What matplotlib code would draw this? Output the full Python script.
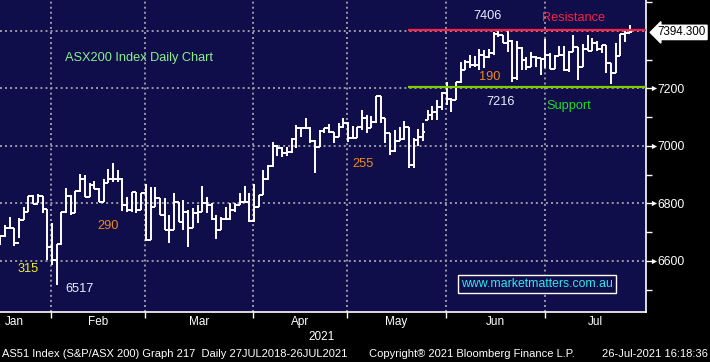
import matplotlib
matplotlib.use('Agg')
import matplotlib.pyplot as plt

# ----------------------------------
# Data (AS51 daily OHLC, mid Jan - 26 Jul 2021)
# ----------------------------------
opens = [6670, 6686, 6713, 6713, 6661, 6742, 6771, 6826, 6797, 6826,
         6779, 6647, 6603, 6658, 6771, 6826, 6765, 6844, 6883, 6821,
         6864, 6849, 6805, 6869, 6883, 6883, 6883, 6794, 6777, 6838,
         6777, 6835, 6672, 6788, 6817, 6759, 6707, 6707, 6805, 6736,
         6771, 6713, 6765, 6771, 6800, 6794, 6745, 6707, 6745, 6744,
         6777, 6794, 6805, 6803, 6738, 6788, 6829, 6883, 6930, 6999,
         6993, 6976, 6979, 7023, 7061, 7063, 7063, 7018, 6997, 7052,
         7061, 7049, 7032, 7064, 7080, 7026, 7028, 7066, 7095, 7061,
         7082, 7173, 7095, 7043, 6982, 7017, 7023, 7064, 6933, 7020,
         7029, 7090, 7107, 7119, 7134, 7185, 7162, 7159, 7221, 7264,
         7292, 7281, 7281, 7316, 7310, 7322, 7389, 7385, 7358, 7365,
         7235, 7339, 7298, 7275, 7310, 7304, 7301, 7316, 7266, 7312,
         7316, 7264, 7327, 7342, 7273, 7336, 7331, 7358, 7336, 7350,
         7287, 7252, 7312, 7389, 7393]
highs = [6690, 6724, 6753, 6713, 6748, 6788, 6826, 6829, 6832, 6826,
         6779, 6730, 6658, 6771, 6852, 6829, 6844, 6902, 6898, 6869,
         6877, 6852, 6883, 6918, 6939, 6916, 6887, 6823, 6838, 6838,
         6835, 6866, 6858, 6858, 6817, 6817, 6759, 6835, 6805, 6812,
         6775, 6783, 6794, 6860, 6823, 6800, 6759, 6753, 6788, 6800,
         6800, 6835, 6861, 6835, 6866, 6829, 6916, 6933, 7014, 7003,
         6997, 6997, 7026, 7072, 7066, 7095, 7066, 7020, 7055, 7061,
         7076, 7049, 7078, 7095, 7084, 7069, 7066, 7124, 7107, 7104,
         7173, 7173, 7095, 7045, 7055, 7066, 7086, 7066, 7026, 7058,
         7078, 7124, 7138, 7159, 7188, 7223, 7165, 7223, 7290, 7298,
         7316, 7312, 7336, 7333, 7336, 7397, 7406, 7385, 7400, 7368,
         7365, 7345, 7310, 7325, 7312, 7306, 7371, 7322, 7316, 7347,
         7347, 7331, 7385, 7345, 7354, 7385, 7374, 7365, 7350, 7350,
         7287, 7358, 7389, 7400, 7420]
lows = [6655, 6682, 6713, 6652, 6678, 6742, 6771, 6797, 6800, 6765,
        6603, 6585, 6517, 6655, 6765, 6759, 6765, 6840, 6821, 6821,
        6849, 6803, 6803, 6869, 6875, 6873, 6773, 6771, 6769, 6765,
        6775, 6670, 6672, 6788, 6759, 6707, 6661, 6707, 6736, 6707,
        6649, 6713, 6730, 6771, 6765, 6742, 6675, 6707, 6742, 6742,
        6771, 6794, 6802, 6736, 6736, 6788, 6829, 6881, 6927, 6964,
        6962, 6964, 6976, 6991, 7032, 7061, 7011, 6906, 6997, 7043,
        7045, 7009, 7032, 7062, 7014, 7026, 7028, 7055, 7045, 7061,
        7078, 7078, 7009, 6968, 6980, 7017, 7020, 6922, 6922, 7000,
        7018, 7090, 7090, 7090, 7124, 7142, 7119, 7159, 7217, 7264,
        7269, 7275, 7264, 7269, 7304, 7316, 7379, 7356, 7327, 7223,
        7229, 7264, 7262, 7275, 7275, 7246, 7269, 7266, 7266, 7312,
        7261, 7258, 7327, 7229, 7273, 7331, 7331, 7331, 7322, 7252,
        7216, 7252, 7312, 7362, 7393]
closes = [6686, 6713, 6713, 6661, 6742, 6771, 6826, 6797, 6826, 6779,
          6647, 6603, 6658, 6771, 6826, 6765, 6844, 6883, 6821, 6864,
          6849, 6805, 6869, 6883, 6883, 6883, 6794, 6777, 6838, 6777,
          6835, 6672, 6788, 6817, 6759, 6707, 6707, 6805, 6736, 6771,
          6713, 6765, 6771, 6800, 6794, 6745, 6707, 6745, 6744, 6777,
          6794, 6805, 6803, 6738, 6788, 6829, 6883, 6930, 6999, 6993,
          6976, 6979, 7023, 7061, 7063, 7063, 7018, 6997, 7052, 7061,
          7049, 7032, 7064, 7080, 7026, 7028, 7066, 7095, 7061, 7082,
          7173, 7095, 7043, 6982, 7017, 7023, 7064, 6933, 7020, 7029,
          7049, 7107, 7119, 7134, 7185, 7162, 7159, 7221, 7264, 7292,
          7281, 7281, 7316, 7310, 7322, 7389, 7385, 7358, 7365, 7235,
          7339, 7298, 7275, 7310, 7304, 7301, 7316, 7266, 7312, 7316,
          7264, 7327, 7342, 7273, 7336, 7331, 7358, 7336, 7350, 7287,
          7252, 7312, 7389, 7393, 7394.3]

last_price = 7394.3
resistance = 7403
support = 7204
month_names = ['Jan', 'Feb', 'Mar', 'Apr', 'May', 'Jun', 'Jul']
month_starts = [11, 31, 54, 74, 95, 116]      # first bar of Feb..Jul
y_major = [6600, 6800, 7000, 7200]
y_minor = [6500, 6700, 6900, 7100, 7300, 7500]
grid_levels = [6600, 6800, 7000, 7200, 7400]

# ----------------------------------
# Style
# ----------------------------------
bg = '#0f0d4a'
plt.rcParams['font.family'] = ['Liberation Sans', 'DejaVu Sans']
narrow = ['Liberation Sans Narrow', 'Liberation Sans', 'DejaVu Sans']

fig = plt.figure(figsize=(7.1, 3.62), dpi=100, facecolor='black')
ax = fig.add_axes([0, 1 - 311.5 / 362, 646 / 710, 311.5 / 362])
ax.set_facecolor(bg)

n = len(closes)
x = list(range(n))
xmin, xmax = -0.05, 137.45
ax.set_xlim(xmin, xmax)
ax.set_ylim(6423.6, 7507)

# --- grid ---
grid_kw = dict(color='#9a9aa6', lw=1.4, linestyle=(0, (1, 1.6)), zorder=1)
for g in grid_levels:
    ax.axhline(g, **grid_kw)
bounds = [m - 0.15 for m in month_starts]
for b in bounds:
    ax.axvline(b, **grid_kw)

# --- OHLC bars ---
ax.vlines(x, lows, highs, color='white', lw=1.4, zorder=3)
ax.hlines(opens, [i - 0.5 for i in x], x, color='white', lw=1.4, zorder=3)
ax.hlines(closes, x, [i + 0.5 for i in x], color='white', lw=1.4, zorder=3)

# --- resistance / support ---
ax.hlines(resistance, 86.8, xmax, color='#ff2045', lw=1.6, zorder=4)
ax.hlines(support, 86.8, xmax, color='#7fcc00', lw=1.6, zorder=4)

# --- annotations ---
fs = 9.2
ax.text(29.6, 7305, 'ASX200 Index Daily Chart', color='#8cf08c', fontsize=fs, ha='center', va='center')
ax.text(6.0, 6571, '315', color='#f0f020', fontsize=fs, ha='center', va='center')
ax.text(16.8, 6502, '6517', color='#e8f0ff', fontsize=fs, ha='center', va='center')
ax.text(23.0, 6721, '290', color='#f08a1e', fontsize=fs, ha='center', va='center')
ax.text(77.2, 6937, '255', color='#f08a1e', fontsize=fs, ha='center', va='center')
ax.text(104.1, 7239, '190', color='#f08a1e', fontsize=fs, ha='center', va='center')
ax.text(103.7, 7450, '7406', color='#e8f0ff', fontsize=fs, ha='center', va='center')
ax.text(106.5, 7153, '7216', color='#e8f0ff', fontsize=fs, ha='center', va='center')
ax.text(122.0, 7444, 'Resistance', color='#ff2045', fontsize=fs, ha='center', va='center')
ax.text(121.0, 7140, 'Support', color='#22dd22', fontsize=fs, ha='center', va='center')
ax.text(114.3, 6519, 'www.marketmatters.com.au', color='#30e8f0', fontsize=8.8,
        ha='center', va='center',
        bbox=dict(boxstyle='square,pad=0.25', fc=bg, ec='white', lw=1.0))

# --- axes / ticks ---
for s in ['top', 'left']:
    ax.spines[s].set_visible(False)
for s in ['bottom', 'right']:
    ax.spines[s].set_color('white')
    ax.spines[s].set_linewidth(1.2)

ax.yaxis.tick_right()
ax.set_yticks(y_major)
ax.set_yticks(y_minor, minor=True)
ax.set_yticklabels([str(v) for v in y_major])
ax.tick_params(axis='y', which='both', colors='white', length=4.5, width=1.0,
               labelsize=8.7, pad=4)
ytr = ax.get_yaxis_transform()
ax.scatter([1.012] * len(y_major), y_major, marker='>', s=14, color='white',
           transform=ytr, clip_on=False, zorder=5, linewidths=0)

label_pos = [2.9] + [(a + b) / 2 for a, b in zip(bounds, bounds[1:] + [xmax])]
ax.set_xticks(bounds)
ax.set_xticklabels([])
ax.set_xticks(label_pos, minor=True)
ax.set_xticklabels(month_names, minor=True)
ax.tick_params(axis='x', which='major', colors='white', length=4, width=1.0)
ax.tick_params(axis='x', which='minor', colors='white', length=0, labelsize=8.5,
               pad=3)
for lab in ax.get_xticklabels(minor=True):
    lab.set_family(narrow)

# --- last price tag ---
ax.text(1.018, last_price, '7394.300', transform=ytr, color='black', fontsize=8.4,
        ha='left', va='center', clip_on=False, zorder=6,
        bbox=dict(boxstyle='larrow,pad=0.1', fc='white', ec='white'))

# --- footer ---
fig.text(322 / 710, 1 - 337 / 362, '2021', color='white', fontsize=8.5, ha='center',
         va='center', family=narrow)
fig.text(2 / 710, 1 - 354 / 362, 'AS51 Index (S&P/ASX 200) Graph 217  Daily 27JUL2018-26JUL2021',
         color='white', fontsize=8.0, ha='left', va='center', family=narrow)
fig.text(369 / 710, 1 - 354 / 362, 'Copyright\u00ae 2021 Bloomberg Finance L.P.',
         color='white', fontsize=8.0, ha='left', va='center', family=narrow)
fig.text(708 / 710, 1 - 354 / 362, '26-Jul-2021 16:18:36',
         color='white', fontsize=8.0, ha='right', va='center', family=narrow)

fig.savefig('out.png', dpi=100, facecolor='black')
